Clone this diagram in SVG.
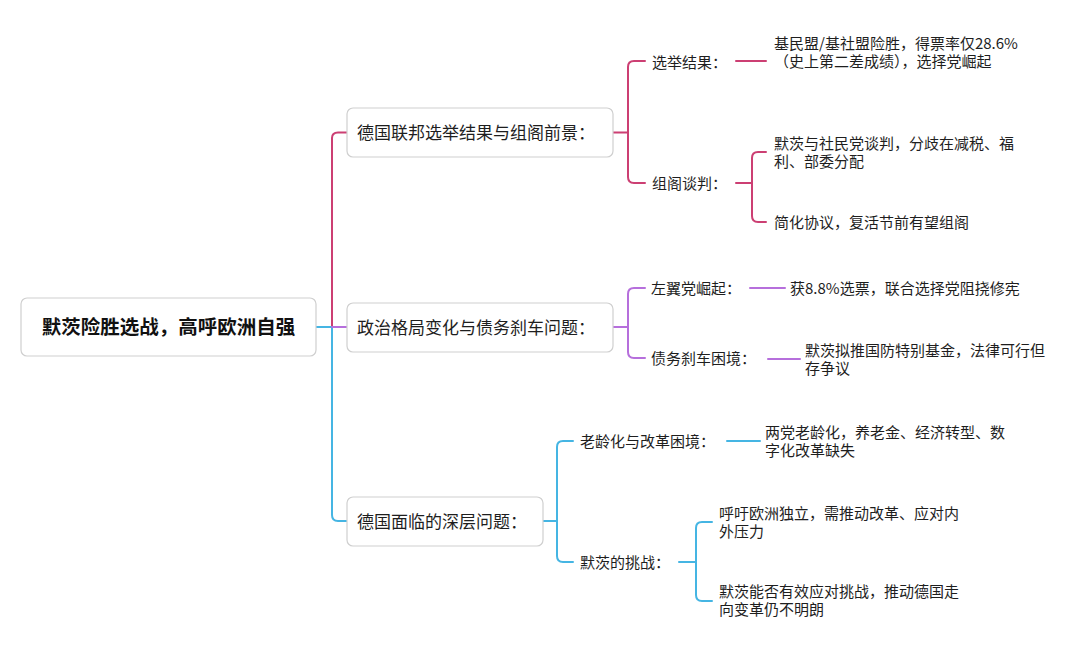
<svg xmlns="http://www.w3.org/2000/svg" width="1080" height="654" viewBox="0 0 1080 654">
<style>
text{font-family:"Noto Sans CJK SC","Noto Sans",sans-serif;fill:#1e1e1e}
.box{fill:#fff;stroke:#cfcfcf;stroke-width:1.2}
.root{font-size:19.5px;font-weight:bold;fill:#111}
.l1{font-size:17px}
.t{font-size:15px}
.c{fill:none;stroke-width:2;stroke-linecap:round;stroke-linejoin:round}
.p{stroke:#CC3F73}
.v{stroke:#B66FDC}
.b{stroke:#45B5E3}
</style>
<rect width="1080" height="654" fill="#fff"/>
<g id="connectors">
<path class="c p" d="M332,327 V138 Q332,132.5 338,132.5 H347"/>
<path class="c b" d="M316,327 H332 M332,327 V515 Q332,521 338,521 H347"/>
<path class="c v" d="M332,327 H347"/>
<path class="c p" d="M613,132.5 H628 M645,61 H634 Q628,61 628,67 V177 Q628,183 634,183 H645"/>
<path class="c p" d="M736,61 H766"/>
<path class="c p" d="M736,183 H752 M766,152 H758 Q752,152 752,158 V216 Q752,222 758,222 H766"/>
<path class="c v" d="M613,327 H628 M645,288 H634 Q628,288 628,294 V352 Q628,358 634,358 H645"/>
<path class="c v" d="M750,288 H785"/>
<path class="c v" d="M768,359 H800"/>
<path class="c b" d="M543,521 H557 M573,441 H563 Q557,441 557,447 V556 Q557,562 563,562 H573"/>
<path class="c b" d="M727,441 H760"/>
<path class="c b" d="M679,562 H696 M712,522 H702 Q696,522 696,528 V595 Q696,601 702,601 H712"/>
</g>
<g id="root">
<rect class="box" x="21" y="298" width="295" height="58" rx="6"/>
<text class="root" x="168.5" y="334" text-anchor="middle">默茨险胜选战，高呼欧洲自强</text>
</g>
<g id="n1">
<rect class="box" x="347" y="108" width="266" height="49" rx="6"/>
<text class="l1" x="357" y="138.5">德国联邦选举结果与组阁前景：</text>
</g>
<g id="n2">
<rect class="box" x="347" y="303" width="266" height="49" rx="6"/>
<text class="l1" x="357" y="333.5">政治格局变化与债务刹车问题：</text>
</g>
<g id="n3">
<rect class="box" x="347" y="497" width="196" height="49" rx="6"/>
<text class="l1" x="357" y="527.5">德国面临的深层问题：</text>
</g>
<g id="n1a"><text class="t" x="652" y="67.5">选举结果：</text></g>
<g id="n1a1"><text class="t" x="774" y="48.5">基民盟/基社盟险胜，得票率仅28.6%<tspan x="774" dy="18">（史上第二差成绩），选择党崛起</tspan></text></g>
<g id="n1b"><text class="t" x="652" y="188.5">组阁谈判：</text></g>
<g id="n1b1"><text class="t" x="774" y="148.5">默茨与社民党谈判，分歧在减税、福<tspan x="774" dy="18">利、部委分配</tspan></text></g>
<g id="n1b2"><text class="t" x="774" y="227.5">简化协议，复活节前有望组阁</text></g>
<g id="n2a"><text class="t" x="651" y="293.5">左翼党崛起：</text></g>
<g id="n2a1"><text class="t" x="790" y="293.5">获8.8%选票，联合选择党阻挠修宪</text></g>
<g id="n2b"><text class="t" x="651" y="363.5">债务刹车困境：</text></g>
<g id="n2b1"><text class="t" x="805" y="355.5">默茨拟推国防特别基金，法律可行但<tspan x="805" dy="18">存争议</tspan></text></g>
<g id="n3a"><text class="t" x="580" y="446.5">老龄化与改革困境：</text></g>
<g id="n3a1"><text class="t" x="765" y="437.5">两党老龄化，养老金、经济转型、数<tspan x="765" dy="18">字化改革缺失</tspan></text></g>
<g id="n3b"><text class="t" x="580" y="567.5">默茨的挑战：</text></g>
<g id="n3b1"><text class="t" x="719" y="518.5">呼吁欧洲独立，需推动改革、应对内<tspan x="719" dy="18">外压力</tspan></text></g>
<g id="n3b2"><text class="t" x="719" y="597">默茨能否有效应对挑战，推动德国走<tspan x="719" dy="18">向变革仍不明朗</tspan></text></g>
</svg>
